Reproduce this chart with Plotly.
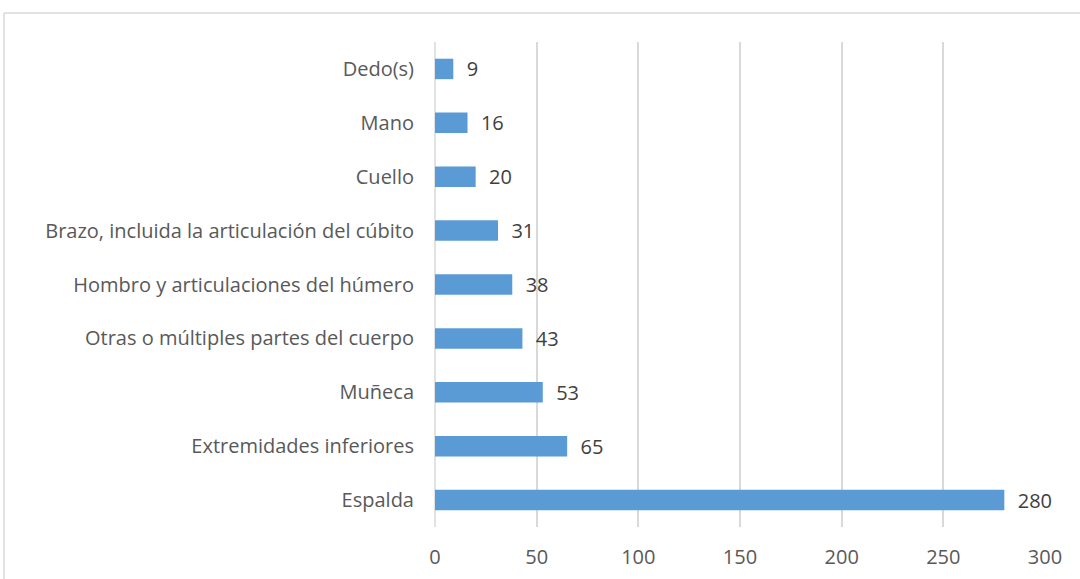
import plotly.graph_objects as go

categories = ["Espalda", "Extremidades inferiores", "Muñeca",
              "Otras o múltiples partes del cuerpo",
              "Hombro y articulaciones del húmero",
              "Brazo, incluida la articulación del cúbito",
              "Cuello", "Mano", "Dedo(s)"]
values = [280, 65, 53, 43, 38, 31, 20, 16, 9]
x_ticks = [0, 50, 100, 150, 200, 250, 300]

FONT = "Open Sans"
FS = 20
fig = go.Figure(go.Bar(
    x=values, y=categories, orientation="h",
    marker=dict(color="#5B9BD5", line=dict(width=0)),
    text=["  " + str(v) for v in values], textposition="outside",
    constraintext="none",
    textfont=dict(family=FONT, size=FS, color="#404040"),
    cliponaxis=False,
))

fig.update_layout(
    width=1080, height=579,
    margin=dict(l=435, r=35, t=42, b=52, autoexpand=False),
    paper_bgcolor="white", plot_bgcolor="white",
    bargap=0.62, showlegend=False,
    font=dict(family=FONT, size=FS, color="#595959"),
    xaxis=dict(range=[0, 300], tickvals=x_ticks, showgrid=True,
               gridcolor="#D9D9D9", gridwidth=1.5, zeroline=False,
               showline=False, ticks="", ticklabelstandoff=16,
               tickfont=dict(family=FONT, size=FS, color="#595959")),
    yaxis=dict(showgrid=False, zeroline=False, showline=False, ticks="",
               ticklabelstandoff=20, automargin=False,
               tickfont=dict(family=FONT, size=FS, color="#595959")),
    shapes=[
        dict(type="line", xref="paper", yref="paper", x0=0, x1=0, y0=0, y1=1,
             line=dict(color="#D9D9D9", width=1.5), layer="below"),
        dict(type="line", xref="paper", yref="paper", x0=-0.7066, x1=1.1,
             y0=1.0598, y1=1.0598, line=dict(color="#D9D9D9", width=1.5)),
        dict(type="line", xref="paper", yref="paper", x0=-0.7066, x1=-0.7066,
             y0=1.0598, y1=-0.2, line=dict(color="#D9D9D9", width=1.5)),
    ],
)

fig.write_html("out.html",
               config={"displayModeBar": False},
               post_script="document.body.style.margin='0px';"
                           "document.body.style.overflow='hidden';")
